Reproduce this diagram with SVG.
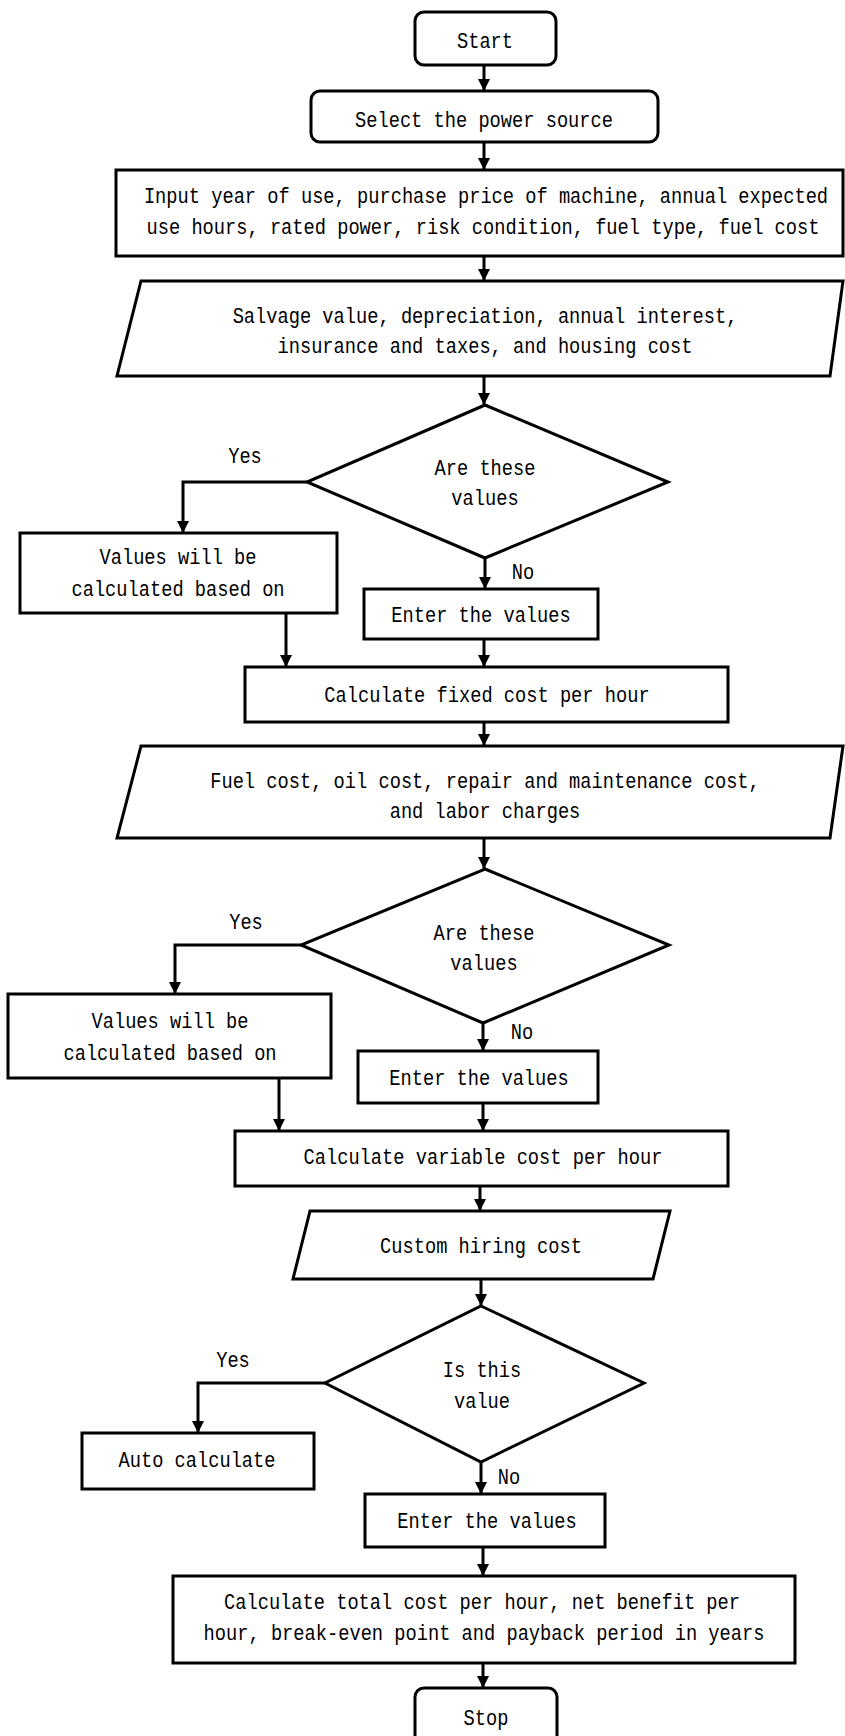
<svg xmlns="http://www.w3.org/2000/svg" width="845" height="1736" viewBox="0 0 845 1736">
<style>
.s{fill:#fff;stroke:#000;stroke-width:3}
.c{fill:none;stroke:#000;stroke-width:3}
text{font-family:"Liberation Mono","DejaVu Sans Mono",monospace;font-size:22px;fill:#000;text-anchor:middle}
</style>
<defs>
<marker id="ah" markerUnits="userSpaceOnUse" markerWidth="12" markerHeight="14" refX="12" refY="6" orient="auto" viewBox="0 0 12 12">
<path d="M0,0 L12,6 L0,12 Z" fill="#000"/>
</marker>
</defs>
<rect width="845" height="1736" fill="#fff"/>
<g id="connectors">
<path class="c" d="M484,65 V91" marker-end="url(#ah)"/>
<path class="c" d="M484,142 V170" marker-end="url(#ah)"/>
<path class="c" d="M484,256 V281" marker-end="url(#ah)"/>
<path class="c" d="M484,376 V405" marker-end="url(#ah)"/>
<path class="c" d="M307,482 H183 V533" marker-end="url(#ah)"/>
<path class="c" d="M485,558 V589" marker-end="url(#ah)"/>
<path class="c" d="M484,639 V667" marker-end="url(#ah)"/>
<path class="c" d="M286,613 V667" marker-end="url(#ah)"/>
<path class="c" d="M484,722 V746" marker-end="url(#ah)"/>
<path class="c" d="M484,838 V869" marker-end="url(#ah)"/>
<path class="c" d="M301,945 H175 V994" marker-end="url(#ah)"/>
<path class="c" d="M483,1023 V1051" marker-end="url(#ah)"/>
<path class="c" d="M483,1103 V1131" marker-end="url(#ah)"/>
<path class="c" d="M279,1078 V1131" marker-end="url(#ah)"/>
<path class="c" d="M480,1186 V1211" marker-end="url(#ah)"/>
<path class="c" d="M481,1279 V1306" marker-end="url(#ah)"/>
<path class="c" d="M325,1383 H198 V1433" marker-end="url(#ah)"/>
<path class="c" d="M481,1462 V1494" marker-end="url(#ah)"/>
<path class="c" d="M483,1547 V1576" marker-end="url(#ah)"/>
<path class="c" d="M483,1663 V1688" marker-end="url(#ah)"/>
<text transform="translate(245,463) scale(0.85,1)">Yes</text>
<text transform="translate(523,579) scale(0.85,1)">No</text>
<text transform="translate(246,929) scale(0.85,1)">Yes</text>
<text transform="translate(522,1039) scale(0.85,1)">No</text>
<text transform="translate(233,1367) scale(0.85,1)">Yes</text>
<text transform="translate(509,1484) scale(0.85,1)">No</text>
</g>
<g id="start">
<rect class="s" x="415" y="12" width="141" height="53" rx="9"/>
<text transform="translate(485,48) scale(0.85,1)">Start</text>
</g>
<g id="select">
<rect class="s" x="311" y="91" width="347" height="51" rx="9"/>
<text transform="translate(484,127) scale(0.85,1)">Select the power source</text>
</g>
<g id="input">
<rect class="s" x="116" y="170" width="727" height="86"/>
<text transform="translate(486,203) scale(0.85,1)">Input year of use, purchase price of machine, annual expected</text>
<text transform="translate(483,234) scale(0.85,1)">use hours, rated power, risk condition, fuel type, fuel cost</text>
</g>
<g id="fixed-inputs">
<polygon class="s" points="141,281 843,281 830,376 117,376"/>
<text transform="translate(485,323) scale(0.85,1)">Salvage value, depreciation, annual interest,</text>
<text transform="translate(485,353) scale(0.85,1)">insurance and taxes, and housing cost</text>
</g>
<g id="decision1">
<polygon class="s" points="485,405 668,482 485,558 307,482"/>
<text transform="translate(485,475) scale(0.85,1)">Are these</text>
<text transform="translate(485,505) scale(0.85,1)">values</text>
</g>
<g id="values1">
<rect class="s" x="20" y="533" width="317" height="80"/>
<text transform="translate(178,564) scale(0.85,1)">Values will be</text>
<text transform="translate(178,596) scale(0.85,1)">calculated based on</text>
</g>
<g id="enter1">
<rect class="s" x="364" y="589" width="234" height="50"/>
<text transform="translate(481,622) scale(0.85,1)">Enter the values</text>
</g>
<g id="calc-fixed">
<rect class="s" x="245" y="667" width="483" height="55"/>
<text transform="translate(487,702) scale(0.85,1)">Calculate fixed cost per hour</text>
</g>
<g id="variable-inputs">
<polygon class="s" points="141,746 843,746 830,838 117,838"/>
<text transform="translate(485,788) scale(0.85,1)">Fuel cost, oil cost, repair and maintenance cost,</text>
<text transform="translate(485,818) scale(0.85,1)">and labor charges</text>
</g>
<g id="decision2">
<polygon class="s" points="485,869 669,945 483,1023 301,945"/>
<text transform="translate(484,940) scale(0.85,1)">Are these</text>
<text transform="translate(484,970) scale(0.85,1)">values</text>
</g>
<g id="values2">
<rect class="s" x="8" y="994" width="323" height="84"/>
<text transform="translate(170,1028) scale(0.85,1)">Values will be</text>
<text transform="translate(170,1060) scale(0.85,1)">calculated based on</text>
</g>
<g id="enter2">
<rect class="s" x="358" y="1051" width="240" height="52"/>
<text transform="translate(479,1085) scale(0.85,1)">Enter the values</text>
</g>
<g id="calc-variable">
<rect class="s" x="235" y="1131" width="493" height="55"/>
<text transform="translate(483,1164) scale(0.85,1)">Calculate variable cost per hour</text>
</g>
<g id="custom-hiring">
<polygon class="s" points="310,1211 670,1211 653,1279 293,1279"/>
<text transform="translate(481,1253) scale(0.85,1)">Custom hiring cost</text>
</g>
<g id="decision3">
<polygon class="s" points="481,1306 644,1383 481,1462 325,1383"/>
<text transform="translate(482,1377) scale(0.85,1)">Is this</text>
<text transform="translate(482,1408) scale(0.85,1)">value</text>
</g>
<g id="auto">
<rect class="s" x="82" y="1433" width="232" height="56"/>
<text transform="translate(197,1467) scale(0.85,1)">Auto calculate</text>
</g>
<g id="enter3">
<rect class="s" x="365" y="1494" width="240" height="53"/>
<text transform="translate(487,1528) scale(0.85,1)">Enter the values</text>
</g>
<g id="calc-total">
<rect class="s" x="173" y="1576" width="622" height="87"/>
<text transform="translate(482,1609) scale(0.85,1)">Calculate total cost per hour, net benefit per</text>
<text transform="translate(484,1640) scale(0.85,1)">hour, break-even point and payback period in years</text>
</g>
<g id="stop">
<rect class="s" x="415" y="1688" width="142" height="70" rx="9"/>
<text transform="translate(486,1725) scale(0.85,1)">Stop</text>
</g>
</svg>
